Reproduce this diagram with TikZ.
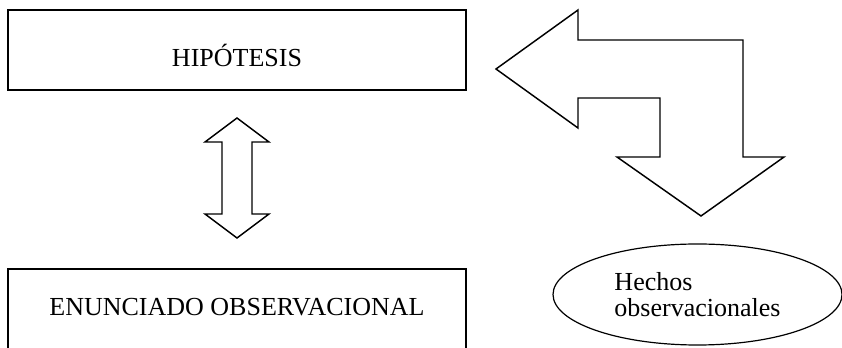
\documentclass[tikz,border=0pt]{standalone}
\usepackage{fontspec}
\setmainfont{Liberation Serif}
\usetikzlibrary{shapes.geometric}
\tikzset{
  caja/.style={draw, line width=1.5pt, rectangle, minimum width=343.5pt, minimum height=60pt, inner sep=0pt, font=\fontsize{19.5}{19.5}\selectfont},
  flecha/.style={draw, line width=1.1pt, line join=miter, fill=white}
}
\begin{document}
\begin{tikzpicture}[x=0.75pt, y=-0.75pt]
\useasboundingbox (0,0) rectangle (842,348);
\clip (0,0) rectangle (842,348);
\node[caja, text height=25.5pt, text depth=0pt] (hipotesis) at (237,50) {HIPÓTESIS};
\node[caja, minimum height=75pt, text height=14pt, text depth=18.5pt] (enunciado) at (237,319) {ENUNCIADO OBSERVACIONAL};
\node[ellipse, draw, line width=0.9pt, minimum width=216.75pt, minimum height=75.75pt, inner sep=0pt, align=left, font=\fontsize{19.5}{19.5}\selectfont] (hechos) at (697.5,294.5) {Hechos\\observacionales};

\draw[flecha] (237,118) -- (269,142) -- (252,142) -- (252,214) -- (269,214) -- (237,238) -- (205,214) -- (222,214) -- (222,142) -- (205,142) -- cycle;
\draw[flecha] (496,69) -- (578,10) -- (578,40) -- (743,40) -- (743,157) -- (784,157) -- (701,216) -- (617,157) -- (660,157) -- (660,98) -- (578,98) -- (578,128) -- cycle;
\end{tikzpicture}
\end{document}
